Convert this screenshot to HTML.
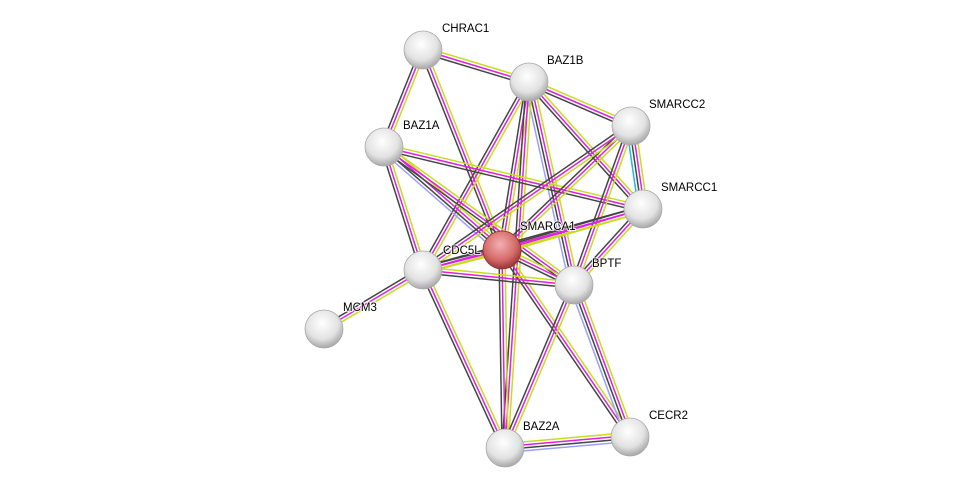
<!DOCTYPE html>
<html><head><meta charset="utf-8"><style>
html,body{margin:0;padding:0;background:#fff;width:975px;height:493px;overflow:hidden}
svg text{font-family:"Liberation Sans",sans-serif;font-size:11.5px;fill:#000;stroke:#fff;stroke-width:2px;paint-order:stroke;stroke-opacity:0.8}
</style></head><body>
<svg id="s" width="975" height="493" xmlns="http://www.w3.org/2000/svg">
<defs>
<radialGradient id="gw" cx="0.45" cy="0.35" r="0.7">
<stop offset="0" stop-color="#ffffff"/><stop offset="0.6" stop-color="#e2e2e2"/><stop offset="1" stop-color="#9a9a9a"/></radialGradient>
<radialGradient id="gr" cx="0.45" cy="0.35" r="0.7">
<stop offset="0" stop-color="#f2b0b0"/><stop offset="0.6" stop-color="#d66a6a"/><stop offset="1" stop-color="#8a2a2a"/></radialGradient>
</defs>
<g id="edges"></g><g id="nodes"></g><g id="labels"></g>
</svg>
<script>
var N={CHRAC1:[423,50],BAZ1B:[529,82],SMARCC2:[631,126],BAZ1A:[384,147],SMARCC1:[643,209],SMARCA1:[502,250],CDC5L:[423,270],BPTF:[574,285],MCM3:[324,329],BAZ2A:[505,448],CECR2:[630,437]};
var L={CHRAC1:[442,32],BAZ1B:[547,64],SMARCC2:[649,108],BAZ1A:[403,129],SMARCC1:[661,191],SMARCA1:[520,230],CDC5L:[443,254],BPTF:[592,267],MCM3:[343,311],BAZ2A:[523,430],CECR2:[649,419]};
var E=[["CHRAC1","BAZ1B"],["CHRAC1","BAZ1A"],["CHRAC1","SMARCA1"],["BAZ1B","SMARCC2"],["BAZ1B","SMARCC1"],["BAZ1B","SMARCA1"],["BAZ1B","CDC5L"],["BAZ1B","BPTF","b"],["BAZ1B","BAZ2A"],["BAZ1A","SMARCA1","b"],["BAZ1A","CDC5L"],["BAZ1A","SMARCC1"],["BAZ1A","BPTF"],["SMARCC2","SMARCC1","c"],["SMARCC2","SMARCA1"],["SMARCC2","CDC5L"],["SMARCC2","BPTF"],["SMARCC1","SMARCA1"],["SMARCC1","BPTF"],["SMARCC1","CDC5L"],["SMARCA1","CDC5L"],["SMARCA1","BPTF"],["SMARCA1","BAZ2A"],["SMARCA1","CECR2"],["CDC5L","MCM3"],["CDC5L","BPTF"],["CDC5L","BAZ2A"],["BPTF","BAZ2A"],["BPTF","CECR2","b"],["BAZ2A","CECR2","b"]];
var ns="http://www.w3.org/2000/svg",eg=document.getElementById("edges"),ng=document.getElementById("nodes"),lg=document.getElementById("labels");
E.forEach(function(e){var a=N[e[0]],b=N[e[1]],dx=b[0]-a[0],dy=b[1]-a[1],l=Math.hypot(dx,dy),px=-dy/l,py=dx/l;
var cols=["#c8dc1e","#e020e0","#444"];if(e[2]=="b")cols.push("#9aa0ff");if(e[2]=="c")cols.push("#20b8e0");
var n=cols.length;cols.forEach(function(c,i){var o=(i-(n-1)/2)*3;var ln=document.createElementNS(ns,"line");
ln.setAttribute("x1",a[0]+px*o);ln.setAttribute("y1",a[1]+py*o);ln.setAttribute("x2",b[0]+px*o);ln.setAttribute("y2",b[1]+py*o);
ln.setAttribute("stroke",c);ln.setAttribute("stroke-width","1.5");eg.appendChild(ln);});});
for(var k in N){var p=N[k];var c=document.createElementNS(ns,"circle");c.setAttribute("cx",p[0]);c.setAttribute("cy",p[1]);c.setAttribute("r",19);
c.setAttribute("fill",k=="SMARCA1"?"url(#gr)":"url(#gw)");c.setAttribute("stroke",k=="SMARCA1"?"#8a3030":"#aaa");c.setAttribute("stroke-width","0.8");ng.appendChild(c);
var t=document.createElementNS(ns,"text");t.setAttribute("x",L[k][0]);t.setAttribute("y",L[k][1]);t.textContent=k;lg.appendChild(t);}
</script>
</body></html>
